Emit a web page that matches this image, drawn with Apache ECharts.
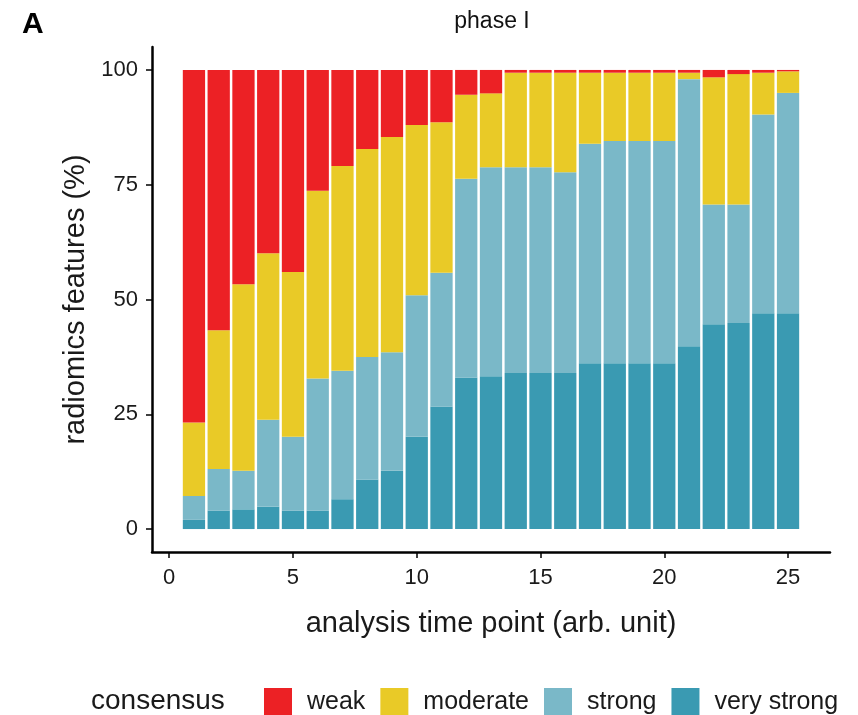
<!DOCTYPE html>
<html>
<head>
<meta charset="utf-8">
<script src="https://cdn.jsdelivr.net/npm/echarts@6/dist/echarts.min.js"></script>
<style>
html,body{margin:0;padding:0;background:#fff;}
#chart{width:858px;height:715px;}
</style>
</head>
<body>
<div id="chart"></div>
<script>
const timePoints = [1,2,3,4,5,6,7,8,9,10,11,12,13,14,15,16,17,18,19,20,21,22,23,24,25];
const veryStrong = [2.0,4.0,4.3,4.9,4.0,4.0,6.5,10.8,12.7,20.1,26.7,33.0,33.3,34.0,34.0,34.0,36.1,36.1,36.1,36.1,39.8,44.6,44.9,47.0,47.0];
const strong = [5.2,9.1,8.4,18.9,16.1,28.8,28.0,26.7,25.8,30.8,29.1,43.3,45.5,44.8,44.8,43.7,47.8,48.4,48.4,48.4,58.2,26.1,25.8,43.3,48.0];
const moderate = [16.0,30.2,40.6,36.3,35.9,40.9,44.6,45.3,46.9,37.1,32.8,18.3,16.1,20.6,20.6,21.7,15.5,14.9,14.9,14.9,1.4,27.7,28.4,9.1,4.7];
const weak = [76.8,56.7,46.7,39.9,44.0,26.3,20.9,17.2,14.6,12.0,11.4,5.4,5.1,0.6,0.6,0.6,0.6,0.6,0.6,0.6,0.6,1.6,0.9,0.6,0.3];
const xTicks = [0,5,10,15,20,25];
const yTicks = [0,25,50,75,100];
const seriesNames = ['weak','moderate','strong','very strong'];
const colors = {'weak':'#EC2125','moderate':'#E9CA27','strong':'#7AB8C8','very strong':'#3A9AB2'};

const chart = echarts.init(document.getElementById('chart'), null, {renderer:'canvas'});
const seriesData = {'very strong': veryStrong, 'strong': strong, 'moderate': moderate, 'weak': weak};
const order = ['very strong','strong','moderate','weak'];
const font = 'Liberation Sans, Arial, Helvetica, sans-serif';

// outer (visible) axis range, ggplot-style 5% expansion around bars 0.55..25.45
const xMin = -0.695, xMax = 26.695;
const gLeft = 152, gRight = 28, gTop = 47, gBottom = 163;
const plotW = 858 - gLeft - gRight;
const unit = plotW / (xMax - xMin);
// inner category grid spans 0.5 .. 25.5
const innerLeft = gLeft + (0.5 - xMin) * unit;
const innerRight = 858 - (gLeft + (timePoints.length + 0.5 - xMin) * unit);

chart.setOption({
  animation:false,
  backgroundColor:'#fff',
  textStyle:{fontFamily:font},
  grid:[
    {left:gLeft,right:gRight,top:gTop,bottom:gBottom,containLabel:false},
    {left:innerLeft,right:innerRight,top:gTop,bottom:gBottom,containLabel:false}
  ],
  xAxis:[{
    gridIndex:0, type:'value', min:xMin, max:xMax,
    name:'analysis time point (arb. unit)', nameLocation:'middle', nameGap:57,
    nameTextStyle:{fontSize:29,color:'#1a1a1a',fontFamily:font},
    axisLine:{show:true,onZero:false,lineStyle:{color:'#000',width:2.5}},
    axisTick:{show:true,length:6,lineStyle:{color:'#000',width:1.5},customValues:xTicks},
    axisLabel:{fontSize:22,color:'#1a1a1a',margin:15,fontFamily:font,customValues:xTicks},
    splitLine:{show:false}
  },{
    gridIndex:1, type:'category', data:timePoints, show:false, boundaryGap:true
  }],
  yAxis:[{
    gridIndex:0, type:'value', min:-5, max:105,
    name:'radiomics features (%)', nameLocation:'middle', nameGap:55, nameRotate:90,
    nameTextStyle:{fontSize:29,color:'#1a1a1a',fontFamily:font},
    axisLine:{show:true,onZero:false,lineStyle:{color:'#000',width:2.5}},
    axisTick:{show:true,length:6,lineStyle:{color:'#000',width:1.5},customValues:yTicks},
    axisLabel:{fontSize:22,color:'#1a1a1a',margin:14,fontFamily:font,customValues:yTicks},
    splitLine:{show:false}
  },{
    gridIndex:1, type:'value', min:-5, max:105, show:false, splitLine:{show:false}
  }],
  title:{
    text:'phase I', left:487, top:5, textAlign:'center',
    textStyle:{fontSize:23,fontWeight:'normal',color:'#111',fontFamily:font}
  },
  legend:{
    data:seriesNames, left:259, top:683, orient:'horizontal',
    itemWidth:28, itemHeight:28, itemGap:15, icon:'rect',
    textStyle:{fontSize:25,color:'#1a1a1a',fontFamily:font,padding:[0,0,0,10]},
    selectedMode:false
  },
  graphic:[
    {type:'text', left:22, top:10, style:{text:'A', fontSize:30, fontWeight:'bold', fill:'#000', fontFamily:font}},
    {type:'text', left:91, top:687, style:{text:'consensus', fontSize:28, fill:'#1a1a1a', fontFamily:font}}
  ],
  series: order.map(name => ({
    name:name, type:'bar', stack:'total', barCategoryGap:'10%',
    xAxisIndex:1, yAxisIndex:1,
    itemStyle:{color:colors[name]},
    data:seriesData[name]
  }))
});
</script>
</body>
</html>
